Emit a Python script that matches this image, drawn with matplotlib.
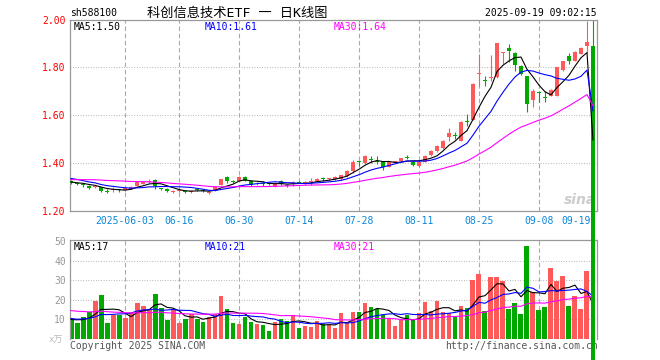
import numpy as np
import pandas as pd
import matplotlib
matplotlib.use('Agg')
import matplotlib.pyplot as plt
from matplotlib.transforms import blended_transform_factory, offset_copy

plt.rcParams['font.family'] = ['DejaVu Sans Mono', 'Noto Sans CJK SC']

symbol = 'sh588100'
title = '科创信息技术ETF 一 日K线图'
stamp = '2025-09-19 09:02:15'

# trading days shown (Dragon Boat holiday 06-02 closed)
dates = pd.bdate_range('2025-05-20', '2025-09-19').drop(pd.Timestamp('2025-06-02'))

opens = [1.326, 1.319, 1.311, 1.306, 1.300, 1.299, 1.283, 1.289, 1.288, 1.286,
         1.292, 1.306, 1.314, 1.322, 1.329, 1.293, 1.292, 1.281, 1.283, 1.282,
         1.281, 1.290, 1.286, 1.277, 1.285, 1.310, 1.340, 1.325, 1.326, 1.344,
         1.326, 1.315, 1.314, 1.313, 1.303, 1.326, 1.310, 1.313, 1.320, 1.313,
         1.320, 1.324, 1.334, 1.332, 1.333, 1.333, 1.346, 1.368, 1.404, 1.400,
         1.416, 1.404, 1.403, 1.384, 1.405, 1.407, 1.425, 1.406, 1.386, 1.406,
         1.433, 1.449, 1.462, 1.508, 1.516, 1.494, 1.575, 1.582, 1.774, 1.746,
         1.757, 1.758, 1.861, 1.883, 1.860, 1.807, 1.762, 1.665, 1.697, 1.676,
         1.682, 1.682, 1.790, 1.849, 1.828, 1.856, 1.890, 1.890]
highs = [1.331, 1.322, 1.319, 1.308, 1.306, 1.301, 1.292, 1.301, 1.292, 1.297,
         1.303, 1.326, 1.326, 1.333, 1.333, 1.297, 1.294, 1.287, 1.292, 1.285,
         1.287, 1.294, 1.290, 1.283, 1.301, 1.335, 1.347, 1.330, 1.347, 1.346,
         1.328, 1.322, 1.326, 1.317, 1.322, 1.329, 1.313, 1.324, 1.324, 1.324,
         1.336, 1.336, 1.344, 1.337, 1.347, 1.352, 1.370, 1.412, 1.407, 1.433,
         1.428, 1.431, 1.405, 1.408, 1.410, 1.422, 1.433, 1.408, 1.407, 1.433,
         1.453, 1.474, 1.496, 1.546, 1.530, 1.574, 1.606, 1.733, 1.856, 1.762,
         1.851, 1.903, 1.865, 1.897, 1.863, 1.810, 1.765, 1.710, 1.703, 1.703,
         1.710, 1.802, 1.827, 1.862, 1.867, 1.886, 1.994, 2.000]
lows = [1.312, 1.308, 1.299, 1.292, 1.295, 1.279, 1.275, 1.278, 1.280, 1.282,
        1.290, 1.304, 1.311, 1.315, 1.292, 1.287, 1.280, 1.276, 1.280, 1.275,
        1.277, 1.284, 1.279, 1.272, 1.282, 1.308, 1.315, 1.318, 1.324, 1.324,
        1.306, 1.310, 1.303, 1.307, 1.300, 1.310, 1.299, 1.306, 1.315, 1.310,
        1.308, 1.322, 1.324, 1.329, 1.331, 1.331, 1.343, 1.358, 1.389, 1.396,
        1.402, 1.396, 1.370, 1.382, 1.400, 1.405, 1.417, 1.390, 1.384, 1.404,
        1.430, 1.447, 1.458, 1.494, 1.500, 1.492, 1.557, 1.580, 1.724, 1.724,
        1.744, 1.756, 1.814, 1.821, 1.786, 1.770, 1.615, 1.633, 1.654, 1.654,
        1.680, 1.680, 1.785, 1.814, 1.826, 1.854, 1.862, 0.000]
closes = [1.317, 1.312, 1.309, 1.296, 1.302, 1.282, 1.281, 1.292, 1.287, 1.294,
          1.299, 1.324, 1.322, 1.325, 1.306, 1.291, 1.283, 1.283, 1.286, 1.280,
          1.283, 1.288, 1.284, 1.279, 1.299, 1.333, 1.326, 1.323, 1.344, 1.326,
          1.310, 1.318, 1.312, 1.311, 1.319, 1.313, 1.306, 1.319, 1.318, 1.322,
          1.322, 1.333, 1.332, 1.334, 1.344, 1.350, 1.368, 1.406, 1.403, 1.428,
          1.414, 1.403, 1.384, 1.406, 1.407, 1.420, 1.423, 1.392, 1.406, 1.431,
          1.451, 1.472, 1.494, 1.526, 1.514, 1.571, 1.573, 1.731, 1.777, 1.743,
          1.760, 1.901, 1.863, 1.869, 1.811, 1.772, 1.647, 1.703, 1.695, 1.674,
          1.707, 1.800, 1.825, 1.828, 1.865, 1.883, 1.907, 0.000]
volumes = [9.7, 8.3, 11.4, 13.9, 19.5, 22.4, 8.3, 12.2, 12.2, 10.9,
           13.4, 18.5, 16.8, 15.1, 23.1, 16.0, 9.7, 14.8, 8.3, 10.3,
           12.7, 10.3, 8.8, 11.4, 12.7, 22.1, 15.3, 8.3, 7.6, 11.4,
           8.8, 7.8, 7.1, 4.2, 8.8, 10.0, 9.3, 12.2, 5.8, 6.6,
           6.3, 9.3, 7.4, 7.1, 5.7, 13.4, 8.0, 13.9, 13.9, 18.5,
           16.3, 15.3, 12.2, 10.5, 6.8, 9.7, 12.2, 9.7, 13.1, 19.0,
           14.3, 19.5, 13.9, 13.1, 11.0, 16.8, 16.0, 30.1, 33.3, 14.3,
           31.6, 31.6, 29.6, 15.3, 18.5, 12.7, 47.6, 24.1, 14.8, 16.3,
           36.4, 29.7, 32.3, 16.8, 22.1, 15.3, 34.9, 0.0]

# days before the window, only feed the moving averages
pre_closes = [1.32, 1.31, 1.30, 1.31, 1.32, 1.33, 1.32, 1.31, 1.33, 1.34,
              1.33, 1.34, 1.35, 1.34, 1.33, 1.34, 1.35, 1.34, 1.33, 1.34,
              1.35, 1.36, 1.35, 1.34, 1.35, 1.33, 1.32, 1.32, 1.32]
pre_volumes = [18, 15, 20, 17, 14, 16, 19, 15, 17, 16,
               18, 14, 17, 16, 15, 19, 17, 16, 15, 16,
               12, 10, 11, 12, 10, 9, 11, 10, 10]

tick_dates = ['2025-06-03', '2025-06-16', '2025-06-30', '2025-07-14', '2025-07-28',
              '2025-08-11', '2025-08-25', '2025-09-08', '2025-09-19']
tick_labels = ['2025-06-03', '06-16', '06-30', '07-14', '07-28',
               '08-11', '08-25', '09-08', '09-19']
price_ticks = [1.20, 1.40, 1.60, 1.80, 2.00]
vol_ticks = [10, 20, 30, 40, 50]
ma_days = [5, 10, 30]
ma_price_text = ['MA5:1.50', 'MA10:1.61', 'MA30:1.64']
ma_vol_text = ['MA5:17', 'MA10:21', 'MA30:21']

RED = '#ff5a5a'
GREEN = '#00a800'
MA_COLORS = ['black', '#0000ff', '#ff00ff']
GRID = '#aaaaaa'
FRAME = '#999999'

W, H = 660, 360
fig = plt.figure(figsize=(W / 100, H / 100), dpi=100)
fig.set_facecolor('white')


def px_axes(x0, y0, x1, y1):
    return fig.add_axes([x0 / W, 1 - y1 / H, (x1 - x0) / W, (y1 - y0) / H])


def ftext(x, y, s, **kw):
    return fig.text(x / W, 1 - y / H, s, **kw)


x = np.arange(len(closes))
o = np.array(opens)
c = np.array(closes)
up = c >= o
colors = np.where(up, RED, GREEN)
tick_pos = [list(dates.strftime('%Y-%m-%d')).index(d) for d in tick_dates]

ax = px_axes(70, 19.5, 597, 211)
axv = px_axes(70, 240, 597, 339)
ax.set_zorder(3)
axv.set_zorder(1)

# ---- price panel
for a in (ax, axv):
    a.set_xlim(-0.17, len(closes) - 0.33)
    for s in a.spines.values():
        s.set_color(FRAME)
        s.set_linewidth(0.9)
    a.tick_params(length=0, labelsize=7, pad=3)
    a.set_xticks([])
    for p in tick_pos[:-1]:
        a.axvline(p, color=GRID, lw=0.8, ls=(0, (4, 2.5)), zorder=0)

ax.set_ylim(1.20, 2.00)
ax.set_yticks(price_ticks)
ax.set_yticklabels(['%.2f' % t for t in price_ticks], color='red')
for t in price_ticks[1:-1]:
    ax.axhline(t, color=GRID, lw=0.8, ls=(0, (0.7, 1.6)), zorder=0)

ax.vlines(x, lows, highs, colors=colors, lw=0.8, zorder=2)
body = np.maximum(np.abs(c - o), 0.004)
bars = ax.bar(x, body, bottom=np.minimum(o, c), width=0.75, color=colors, zorder=3)
bars[-1].set_clip_on(False)

all_c = pd.Series(pre_closes + closes)
for n, col in zip(ma_days, MA_COLORS):
    m = all_c.rolling(n).mean().iloc[len(pre_closes):].values
    ax.plot(x, m, color=col, lw=0.8, zorder=4)

trans = blended_transform_factory(ax.transData, ax.transAxes)
for p, lab in zip(tick_pos[:-1], tick_labels[:-1]):
    ax.text(p, 0, lab, transform=offset_copy(trans, fig=fig, y=-10, units='dots'),
            ha='center', va='center', fontsize=7, color='#0a86d8')
ax.text(1, 0, tick_labels[-1], transform=offset_copy(ax.transAxes, fig=fig, x=-6, y=-10, units='dots'),
        ha='right', va='center', fontsize=7, color='#0a86d8')

# sina watermark
ax.text(580, 1.245, 'sina', transform=blended_transform_factory(
    matplotlib.transforms.IdentityTransform(), ax.transData),
    ha='center', va='center', fontsize=10, style='italic', fontweight='bold',
    color='#cccccc', family='DejaVu Sans', zorder=1)

# ---- volume panel
axv.set_ylim(0, 50.5)
axv.set_yticks(vol_ticks)
axv.set_yticklabels([str(t) for t in vol_ticks], color=FRAME)
axv.spines['bottom'].set_visible(False)
for t in vol_ticks[:-1]:
    axv.axhline(t, color=GRID, lw=0.8, ls=(0, (0.7, 1.6)), zorder=0)
axv.bar(x, volumes, width=0.83, color=colors, zorder=2)
all_v = pd.Series(pre_volumes + volumes)
for n, col in zip(ma_days, MA_COLORS):
    m = all_v.rolling(n).mean().iloc[len(pre_volumes):].values
    axv.plot(x, m, color=col, lw=0.8, zorder=3)

axv.text(598 / W, 1 - 346 / H, 'http://finance.sina.com.cn', transform=fig.transFigure,
         ha='right', va='center', fontsize=7, color='#555555', clip_on=False)

# ---- texts
ftext(70, 13, symbol, ha='left', va='center', fontsize=7)
ftext(237, 13, title, ha='center', va='center', fontsize=9.5)
ftext(597, 13, stamp, ha='right', va='center', fontsize=7)

for xp, s, col in zip([74, 205, 334], ma_price_text, MA_COLORS):
    ftext(xp, 27, s, ha='left', va='center', fontsize=7, color=col)
for xp, s, col in zip([74, 205, 334], ma_vol_text, MA_COLORS):
    ftext(xp, 246.5, s, ha='left', va='center', fontsize=7, color=col)

ftext(56, 340, 'x万', ha='center', va='center', fontsize=6.5, color='#bbbbbb')
ftext(70, 346, 'Copyright 2025 SINA.COM', ha='left', va='center', fontsize=7, color='#555555')

fig.savefig('out.png', dpi=100, facecolor='white')
